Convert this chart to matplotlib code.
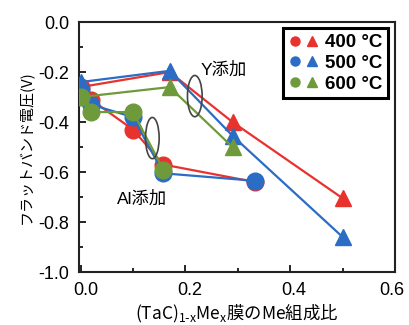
import matplotlib
matplotlib.use("Agg")
import matplotlib.pyplot as plt
from matplotlib.lines import Line2D
from matplotlib.legend_handler import HandlerTuple
from matplotlib.patches import Ellipse
from matplotlib.transforms import ScaledTranslation

plt.rcParams['font.family'] = ['Liberation Sans', 'Noto Sans CJK JP', 'DejaVu Sans']

temps = ["400 °C", "500 °C", "600 °C"]
colors = ["#e8322e", "#2b6cc4", "#6f9a3b"]

# Al added (circles)
al_x = [[0.0, 0.02, 0.10, 0.158, 0.333],
        [0.0, 0.02, 0.10, 0.158, 0.333],
        [0.0, 0.02, 0.10, 0.158]]
al_y = [[-0.26, -0.31, -0.43, -0.57, -0.64],
        [-0.27, -0.33, -0.38, -0.605, -0.635],
        [-0.30, -0.36, -0.36, -0.59]]

# Y added (triangles)
y_x = [[0.0, 0.17, 0.29, 0.50],
       [0.0, 0.17, 0.29, 0.50],
       [0.0, 0.17, 0.29]]
y_y = [[-0.26, -0.20, -0.40, -0.705],
       [-0.24, -0.195, -0.455, -0.86],
       [-0.30, -0.26, -0.50]]

fig = plt.figure(figsize=(4.09, 3.25), dpi=100)
ax = fig.add_axes([0.193, 0.163, 0.773, 0.769])

order = [1, 0, 2]
for i in order:
  c = colors[i]
  ax.plot(y_x[i], y_y[i], color=c, lw=1.6, marker="^", ms=12, mec=c, zorder=2 + i)
for i in order:
  c = colors[i]
  ax.plot(al_x[i], al_y[i], color=c, lw=1.6, marker="o", ms=12, mec=c, zorder=2 + i)

# brackets around the two groups
ax.add_patch(Ellipse((0.137, -0.464), 0.026, 0.165, angle=0, fill=False,
                     ec="#444444", lw=1.2, zorder=6))
ax.add_patch(Ellipse((0.218, -0.296), 0.028, 0.165, angle=0, fill=False,
                     ec="#444444", lw=1.2, zorder=6))
ax.text(0.229, -0.19, "Y添加", fontsize=12.5, va="center", ha="left")
ax.text(0.07, -0.708, "Al添加", fontsize=12.5, va="center", ha="left")

ax.set_xlim(-0.003, 0.6)
ax.set_ylim(-1.0, 0.0)
ax.set_xticks([0.0, 0.2, 0.4, 0.6])
ax.set_xticks([0.1, 0.3, 0.5], minor=True)
ax.set_yticks([-1.0, -0.8, -0.6, -0.4, -0.2, 0.0])
ax.set_yticks([-0.9, -0.7, -0.5, -0.3, -0.1], minor=True)
ax.set_xticklabels(["0.0", "0.2", "0.4", "0.6"])
ax.set_yticklabels(["-1.0", "-0.8", "-0.6", "-0.4", "-0.2", "0.0"])
ax.tick_params(which="both", direction="in", labelsize=13, width=1.2)
ax.tick_params(axis="y", pad=7)
ax.tick_params(axis="x", pad=7)
ax.tick_params(which="major", length=5)
ax.tick_params(which="minor", length=3)
# the scanned labels sit a little right of their ticks; keep the last one inside
shifts = [5, 4, 4, -3]
for lbl, dx in zip(ax.get_xticklabels(), shifts):
  lbl.set_transform(lbl.get_transform() + ScaledTranslation(dx / 100, 0, fig.dpi_scale_trans))
for s in ax.spines.values():
  s.set_linewidth(1.5)
  s.set_color("#222222")

ax.set_xlabel(r"(TaC)$_{\mathregular{1\text{-}x}}$Me$_{\mathregular{x}}$膜のMe組成比",
              fontsize=12.5, family="Noto Sans CJK JP", labelpad=3)
ax.set_ylabel("フラットバンド電圧(V)", fontsize=10.8, family="Noto Sans CJK JP", labelpad=3)

handles = []
for c in colors:
  h1 = Line2D([], [], ls="none", marker="o", ms=6.5, color=c)
  h2 = Line2D([], [], ls="none", marker="^", ms=7, color=c)
  handles.append((h1, h2))
leg = ax.legend(handles, temps, handler_map={tuple: HandlerTuple(ndivide=None, pad=0.2)},
                loc="upper right", bbox_to_anchor=(0.99, 0.99), fancybox=False,
                edgecolor="black", framealpha=1, handlelength=1.6, handletextpad=0.35,
                labelspacing=0.2, borderpad=0.3, borderaxespad=0.2,
                prop={'weight': 'bold', 'size': 13.5})
leg.get_frame().set_linewidth(2.2)

fig.savefig("out.png", dpi=100)
